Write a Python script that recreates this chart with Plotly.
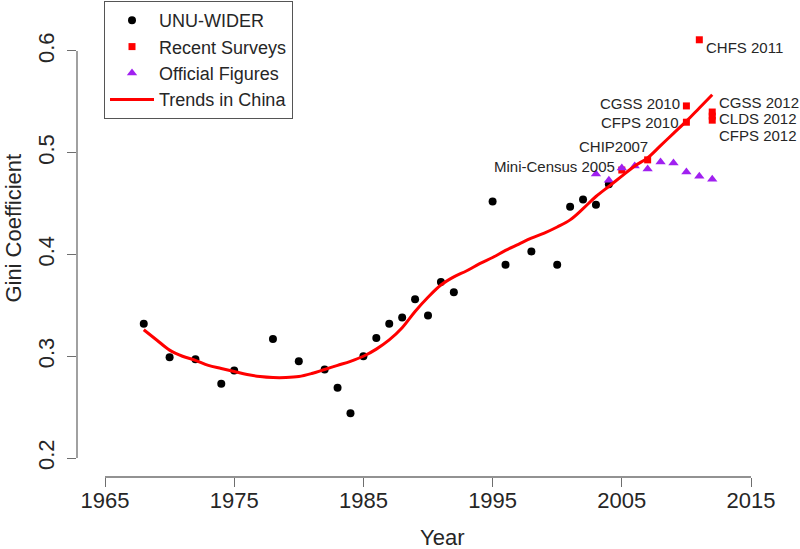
import plotly.graph_objects as go

# UNU-WIDER estimates
wider_years = [1968, 1970, 1972, 1974, 1975, 1978, 1980, 1982, 1983, 1984, 1985, 1986, 1987,
               1988, 1989, 1990, 1991, 1992, 1995, 1996, 1998, 2000, 2001, 2002, 2003, 2004]
wider_gini = [0.332, 0.299, 0.297, 0.273, 0.286, 0.317, 0.295, 0.287, 0.269, 0.244, 0.300, 0.318, 0.332,
              0.338, 0.356, 0.340, 0.373, 0.363, 0.452, 0.390, 0.403, 0.390, 0.447, 0.454, 0.449, 0.469]

# Recent surveys
survey_names = ["Mini-Census 2005", "CHIP2007", "CGSS 2010", "CFPS 2010", "CHFS 2011",
                "CGSS 2012", "CLDS 2012", "CFPS 2012"]
survey_years = [2005, 2007, 2010, 2010, 2011, 2012, 2012, 2012]
survey_gini = [0.483, 0.493, 0.546, 0.530, 0.611, 0.540, 0.536, 0.532]

# Official figures
official_years = [2003, 2004, 2005, 2006, 2007, 2008, 2009, 2010, 2011, 2012]
official_gini = [0.479, 0.473, 0.485, 0.487, 0.484, 0.491, 0.490, 0.481, 0.477, 0.474]

# Trend line
trend_years = [1968, 1969, 1970, 1971, 1972, 1973, 1974, 1975, 1976, 1977, 1978, 1979, 1980,
               1981, 1982, 1983, 1984, 1985, 1986, 1987, 1988, 1989, 1990, 1991, 1992, 1993,
               1994, 1995, 1996, 1997, 1998, 1999, 2000, 2001, 2002, 2003, 2004, 2005, 2006,
               2007, 2008, 2009, 2010, 2011, 2012]
trend_gini = [0.326, 0.316, 0.306, 0.300, 0.296, 0.291, 0.288, 0.285, 0.282, 0.280, 0.279, 0.279, 0.280,
              0.283, 0.287, 0.291, 0.295, 0.300, 0.307, 0.316, 0.328, 0.344, 0.358, 0.370, 0.378, 0.384,
              0.391, 0.397, 0.404, 0.410, 0.416, 0.421, 0.427, 0.434, 0.445, 0.457, 0.467, 0.477, 0.487,
              0.495, 0.507, 0.519, 0.531, 0.544, 0.557]

x_ticks = [1965, 1975, 1985, 1995, 2005, 2015]
y_ticks = [0.2, 0.3, 0.4, 0.5, 0.6]

# label placement (anchor, xshift, yshift) per survey
label_style = {
    "Mini-Census 2005": ("right", -5, 4),
    "CHIP2007": ("right", 2, 13),
    "CGSS 2010": ("right", -4, 2),
    "CFPS 2010": ("right", -5, 0),
    "CHFS 2011": ("left", 5, -8),
    "CGSS 2012": ("left", 5, 10),
    "CLDS 2012": ("left", 5, -2),
    "CFPS 2012": ("left", 5, -15),
}

FONT = "Liberation Sans, Arial, sans-serif"
TXT = "#262626"
AX = "#6e6e6e"

fig = go.Figure()
fig.add_trace(go.Scatter(x=wider_years, y=wider_gini, mode="markers", name="UNU-WIDER",
                         marker=dict(symbol="circle", size=8, color="black")))
fig.add_trace(go.Scatter(x=survey_years, y=survey_gini, mode="markers", name="Recent Surveys",
                         marker=dict(symbol="square", size=7, color="#ff0000")))
fig.add_trace(go.Scatter(x=official_years, y=official_gini, mode="markers", name="Official Figures",
                         marker=dict(symbol="triangle-up", size=9, color="#a020f0")))
fig.add_trace(go.Scatter(x=trend_years, y=trend_gini, mode="lines", name="Trends in China",
                         line=dict(color="#ff0000", width=3, shape="spline")))

for n, xv, yv in zip(survey_names, survey_years, survey_gini):
    anc, xs, ys = label_style[n]
    fig.add_annotation(x=xv, y=yv, xref="x", yref="y", text=n, showarrow=False,
                       xanchor=anc, yanchor="middle", xshift=xs, yshift=ys,
                       font=dict(size=15, color=TXT, family=FONT))

# R-style axis lines spanning first to last tick
fig.add_shape(type="line", xref="x", yref="paper", x0=x_ticks[0], x1=x_ticks[-1], y0=0, y1=0,
              line=dict(color=AX, width=1.3))
fig.add_shape(type="line", xref="paper", yref="y", x0=0, x1=0, y0=y_ticks[0], y1=y_ticks[-1],
              line=dict(color=AX, width=1.3))

fig.add_annotation(text="Year", xref="paper", yref="paper", x=0.52, y=-0.136, showarrow=False,
                   xanchor="center", yanchor="middle", font=dict(size=22, color=TXT, family=FONT))
fig.add_annotation(text="Gini Coefficient", xref="paper", yref="paper", x=-0.0905, y=0.563,
                   showarrow=False, textangle=-90, xanchor="center", yanchor="middle",
                   font=dict(size=22, color=TXT, family=FONT))

fig.update_layout(
    width=800, height=549,
    margin=dict(l=77, r=21, t=35, b=72, autoexpand=False),
    paper_bgcolor="white", plot_bgcolor="white",
    font=dict(family=FONT, color=TXT),
    xaxis=dict(range=[1962.833, 2017.167], tickvals=x_ticks, ticktext=[str(v) for v in x_ticks],
               showgrid=False, zeroline=False, showline=False, ticks="outside", ticklen=9,
               tickcolor=AX, tickwidth=1.3, tickfont=dict(size=22, color=TXT), ticklabelstandoff=-5,
               automargin=False),
    yaxis=dict(range=[0.18133, 0.6157], tickvals=y_ticks, ticktext=[f"{v:.1f}" for v in y_ticks],
               showgrid=False, zeroline=False, showline=False, ticks="outside", ticklen=9,
               tickcolor=AX, tickwidth=1.3, tickangle=-90, tickfont=dict(size=22, color=TXT),
               ticklabelstandoff=4, automargin=False),
    legend=dict(xref="container", yref="container", x=104 / 800, y=1 - 1 / 549,
                xanchor="left", yanchor="top", bgcolor="white",
                bordercolor="#555555", borderwidth=1, font=dict(size=18, color=TXT, family=FONT),
                itemwidth=44, tracegroupgap=0),
    showlegend=True,
)

fig.write_html("out.html", config={"displayModeBar": False},
               post_script="document.body.style.margin='0';document.body.style.overflow='hidden';")
